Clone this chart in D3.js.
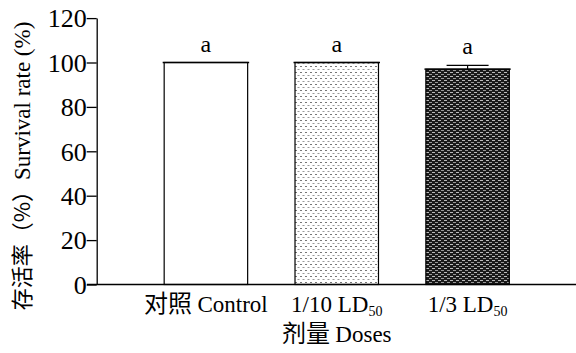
<!DOCTYPE html>
<html lang="zh">
<head>
<meta charset="utf-8">
<title>Survival rate</title>
<script src="https://d3js.org/d3.v7.min.js"></script>
<style>
  body { margin: 0; background: #fff; }
  svg text { font-family: "Liberation Serif", "Times New Roman", serif; fill: #000; }
  .cjk { font-family: "Noto Sans CJK SC", sans-serif; }
</style>
</head>
<body>
<div id="chart"></div>
<script>
// data
var categories = ["对照 Control", "1/10 LD50", "1/3 LD50"];
var survival = [100, 100, 97.0];
var errors = [0, 0, 1.7];
var letters = ["a", "a", "a"];
var yTicks = [0, 20, 40, 60, 80, 100, 120];

var width = 576, height = 353;
var svg = d3.select("#chart").append("svg")
    .attr("width", width)
    .attr("height", height);

var defs = svg.append("defs");
// light dotted fill
var dots = defs.append("pattern")
    .attr("id", "dots")
    .attr("patternUnits", "userSpaceOnUse")
    .attr("width", 5).attr("height", 6);
dots.append("rect").attr("width", 5).attr("height", 6).attr("fill", "#fff");
dots.append("rect").attr("x", 0).attr("y", 0).attr("width", 2).attr("height", 1).attr("fill", "#777");
dots.append("rect").attr("x", 2.5).attr("y", 3).attr("width", 2).attr("height", 1).attr("fill", "#999");
// dark brick fill
var brick = defs.append("pattern")
    .attr("id", "brick")
    .attr("patternUnits", "userSpaceOnUse")
    .attr("width", 6).attr("height", 4);
brick.append("rect").attr("width", 6).attr("height", 4).attr("fill", "#1a1a1a");
brick.append("rect").attr("x", 0).attr("y", 0).attr("width", 3).attr("height", 1).attr("fill", "#bbb");
brick.append("rect").attr("x", 3).attr("y", 2).attr("width", 3).attr("height", 1).attr("fill", "#999");
var fills = ["#fff", "url(#dots)", "url(#brick)"];

var y = d3.scaleLinear().domain([0, 120]).range([284.5, 18.1]);
var x = d3.scaleBand()
    .domain(categories)
    .range([108.5, 565])
    .paddingInner(0.362)
    .paddingOuter(0.4255);

// bars
svg.selectAll(".bar")
    .data(categories)
    .enter()
    .append("rect")
    .attr("x", function(d) { return x(d); })
    .attr("y", function(d, i) { return y(survival[i]); })
    .attr("width", x.bandwidth())
    .attr("height", function(d, i) { return y(0) - y(survival[i]); })
    .attr("fill", function(d, i) { return fills[i]; })
    .attr("stroke", "#000")
    .attr("stroke-width", 1.2);

// error bars and letters
categories.forEach(function(c, i) {
    var cx = x(c) + x.bandwidth() / 2;
    var top = y(survival[i] + errors[i]);
    if (errors[i] > 0) {
        svg.append("line")
            .attr("x1", cx).attr("x2", cx)
            .attr("y1", y(survival[i])).attr("y2", top)
            .attr("stroke", "#000").attr("stroke-width", 1.2);
        svg.append("line")
            .attr("x1", cx - 21).attr("x2", cx + 21)
            .attr("y1", top).attr("y2", top)
            .attr("stroke", "#000").attr("stroke-width", 1.2);
    }
    svg.append("line")
        .attr("x1", x(c) - 1.5).attr("x2", x(c) + x.bandwidth() + 1.5)
        .attr("y1", y(survival[i])).attr("y2", y(survival[i]))
        .attr("stroke", "#000").attr("stroke-width", 1.4);
    svg.append("text")
        .attr("x", cx)
        .attr("y", top - 11)
        .attr("text-anchor", "middle")
        .style("font-size", "24px")
        .text(letters[i]);
});

// y axis
var yAxis = svg.append("g")
    .attr("transform", "translate(96.7,0)")
    .call(d3.axisLeft(y).tickValues(yTicks).tickSize(10).tickSizeOuter(0));
yAxis.select(".domain").attr("stroke", "#000").attr("stroke-width", 1.3);
yAxis.selectAll(".tick line").attr("stroke", "#000").attr("stroke-width", 1.3);
yAxis.selectAll(".tick text")
    .attr("x", -10)
    .attr("dy", "0.34em")
    .style("font-family", "Liberation Serif, serif")
    .style("font-size", "26px")
    .attr("fill", "#000");

// x axis line
svg.append("line")
    .attr("x1", 87).attr("x2", 576)
    .attr("y1", y(0)).attr("y2", y(0))
    .attr("stroke", "#000").attr("stroke-width", 1.3);

// x category labels
categories.forEach(function(c, i) {
    var t = svg.append("text")
        .attr("x", x(c) + x.bandwidth() / 2)
        .attr("y", 312)
        .attr("text-anchor", "middle")
        .style("font-size", "23px");
    if (c.indexOf("LD50") >= 0) {
        t.append("tspan").text(c.replace("LD50", "LD"));
        t.append("tspan").attr("dy", 4).style("font-size", "14px").text("50");
    } else {
        t.append("tspan").attr("class", "cjk").style("font-size", "24px").text("对照 ");
        t.append("tspan").text("Control");
    }
});

// axis titles
var xt = svg.append("text")
    .attr("x", x(categories[1]) + x.bandwidth() / 2)
    .attr("y", 342)
    .attr("text-anchor", "middle")
    .style("font-size", "23px");
xt.append("tspan").attr("class", "cjk").style("font-size", "24px").text("剂量 ");
xt.append("tspan").text("Doses");

var yt = svg.append("text")
    .attr("transform", "translate(30,166) rotate(-90)")
    .attr("text-anchor", "middle")
    .style("font-size", "23px");
yt.append("tspan").attr("class", "cjk").style("font-size", "22px").text("存活率（%）");
yt.append("tspan").text("Survival rate (%)");
</script>
</body>
</html>
